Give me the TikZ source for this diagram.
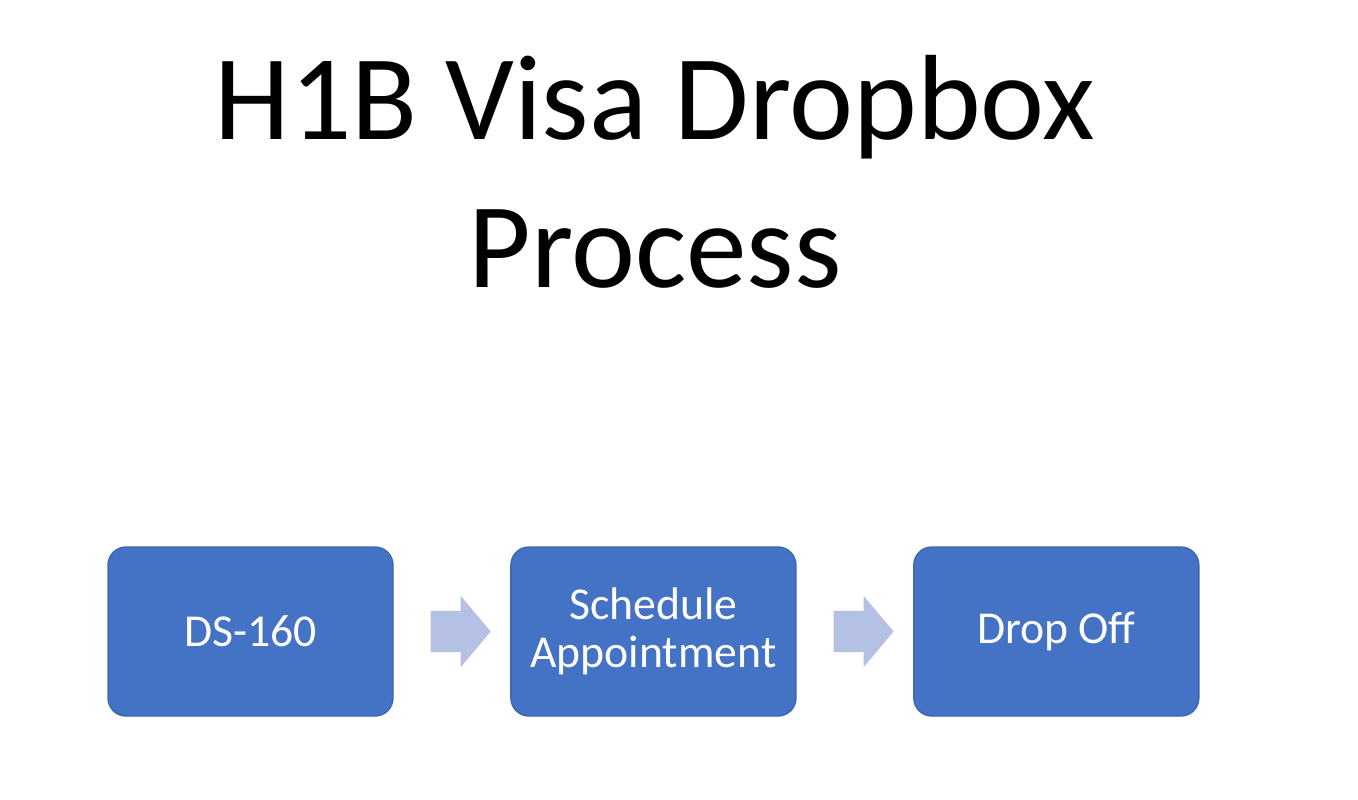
\documentclass[tikz,border=0pt]{standalone}
\usepackage{fontspec}
\setmainfont{Carlito}
\usetikzlibrary{positioning,calc,shapes.arrows}
\definecolor{stageblue}{HTML}{4472C4}
\definecolor{arrowblue}{HTML}{B4C0E4}
\tikzset{
  stage/.style={fill=stageblue,draw=stageblue!90!black,line width=0.4pt,rounded corners=0.18cm,
    minimum width=2.85cm,minimum height=1.69cm,text=white,align=center,
    font=\fontsize{13}{13.8}\selectfont},
  flow/.style={single arrow,fill=arrowblue,draw=none,minimum height=0.6cm,
    minimum width=0.7cm,single arrow head extend=0.15cm,inner sep=0pt,
    single arrow tip angle=100}
}
\begin{document}
\begin{tikzpicture}
\useasboundingbox (0,0) rectangle (13.58,-7.99);
\node[font=\fontsize{34.5}{42}\selectfont,align=center] (title) at (6.55,-1.72)
  {H1B Visa Dropbox\\Process};
\node[stage] (ds) at (2.505,-6.315) {DS-160};
\node[stage,right=1.165cm of ds] (appt) {Schedule\\Appointment};
\node[stage,right=1.165cm of appt] (drop) {Drop Off};
\node[flow] (a1) at ($(ds.east)!0.5!(appt.west)$) {\rule{0pt}{0.4cm}};
\node[flow] (a2) at ($(appt.east)!0.5!(drop.west)$) {\rule{0pt}{0.4cm}};
\end{tikzpicture}
\end{document}
